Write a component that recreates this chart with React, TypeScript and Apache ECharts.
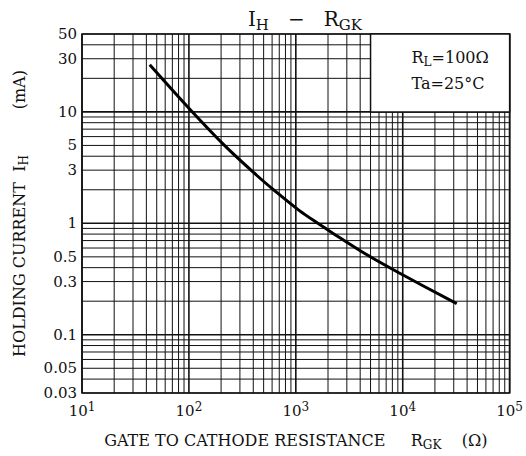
import React, { useEffect, useRef } from "react";
import * as echarts from "echarts";

// ---- data ----
const RGK = [43, 100, 220, 430, 660, 1080, 1660, 2200, 4500, 9200, 32000];
const IH = [26.5, 10.8, 4.9, 2.7, 1.9, 1.3, 0.98, 0.82, 0.53, 0.36, 0.19];

const X_MIN = 10;
const X_MAX = 100000;
const Y_MIN = 0.03;
const Y_MAX = 50;

const X_DECADES = [10, 100, 1000, 10000];
const Y_DECADES = [0.01, 0.1, 1, 10];
const MULTS = [1, 2, 3, 4, 5, 6, 7, 8, 9];
const Y_LABELS = [50, 30, 10, 5, 3, 1, 0.5, 0.3, 0.1, 0.05, 0.03];
const BOX_X = [5000, 100000];
const BOX_Y = [10, 50];

const FONT = "DejaVu Serif";
const INK = "#111";

const xGrid: number[] = [];
X_DECADES.forEach((d) => MULTS.forEach((m) => xGrid.push(+(d * m).toPrecision(6))));
xGrid.push(X_MAX);
const yGrid: number[] = [];
Y_DECADES.forEach((d) =>
  MULTS.forEach((m) => {
    const v = +(d * m).toPrecision(6);
    if (v >= Y_MIN - 1e-9 && v <= Y_MAX + 1e-9) yGrid.push(v);
  })
);

const isDecade = (v: number) => Math.abs(Math.log10(v) - Math.round(Math.log10(v))) < 1e-9;

const subRich = (fs: number, sfs: number, lh: number) => ({
  a: { fontFamily: FONT, fontSize: fs, color: INK, fill: INK, lineHeight: lh, verticalAlign: "middle" },
  s: { fontFamily: FONT, fontSize: sfs, color: INK, fill: INK, lineHeight: lh, verticalAlign: "bottom" },
});

export default function App() {
  const ref = useRef<HTMLDivElement>(null);
  useEffect(() => {
    if (!ref.current) return;
    const chart = echarts.init(ref.current, undefined, { renderer: "svg" });
    chart.setOption({
      animation: false,
      backgroundColor: "#fff",
      title: {
        text: "{a|I}{s|H}{a|   −   R}{s|GK}",
        left: 300,
        textAlign: "center",
        top: 1,
        textStyle: {
          fontWeight: "normal",
          rich: subRich(20, 15, 26),
        },
      },
      grid: {
        left: 82,
        right: 15,
        top: 34,
        bottom: 63,
        show: true,
        borderColor: INK,
        borderWidth: 1.5,
        backgroundColor: "transparent",
      },
      xAxis: {
        type: "log",
        logBase: 10,
        min: X_MIN,
        max: X_MAX,
        axisLine: { show: false },
        axisTick: { show: false },
        splitLine: { show: false },
        axisLabel: {
          margin: 8,
          formatter: (v: number) => `{b|10}{s|${Math.round(Math.log10(v))}}`,
          rich: {
            b: { fontFamily: FONT, fontSize: 15, color: INK, lineHeight: 17, verticalAlign: "bottom" },
            s: { fontFamily: FONT, fontSize: 12, color: INK, lineHeight: 17, verticalAlign: "top" },
          },
        },
        name: "{a|GATE TO CATHODE RESISTANCE     R}{s|GK}{a|    (Ω)}",
        nameLocation: "middle",
        nameGap: 36,
        nameTextStyle: {
          rich: subRich(16, 12, 22),
        },
      },
      yAxis: {
        type: "log",
        logBase: 10,
        min: Y_MIN,
        max: Y_MAX,
        axisLine: { show: false },
        axisTick: { show: false },
        splitLine: { show: false },
        axisLabel: { show: false },
        name: "{a|HOLDING CURRENT  I}{s|H}{a|         (mA)}",
        nameLocation: "middle",
        nameGap: 52,
        nameTextStyle: {
          rich: subRich(16, 12, 22),
        },
      },
      series: [
        {
          type: "custom",
          z: 1,
          silent: true,
          clip: false,
          data: xGrid.map((v) => [v, Y_MIN]),
          renderItem: (params: any, api: any) => {
            const v = api.value(0);
            const p1 = api.coord([v, Y_MIN]);
            const p2 = api.coord([v, Y_MAX]);
            return {
              type: "line",
              shape: { x1: p1[0], y1: p1[1], x2: p2[0], y2: p2[1] },
              style: { stroke: INK, lineWidth: isDecade(v) ? 1.6 : 1 },
            };
          },
        },
        {
          type: "custom",
          z: 1,
          silent: true,
          clip: false,
          data: yGrid.map((v) => [X_MIN, v]),
          renderItem: (params: any, api: any) => {
            const v = api.value(1);
            const p1 = api.coord([X_MIN, v]);
            const p2 = api.coord([X_MAX, v]);
            return {
              type: "line",
              shape: { x1: p1[0], y1: p1[1], x2: p2[0], y2: p2[1] },
              style: { stroke: INK, lineWidth: isDecade(v) ? 1.6 : 1 },
            };
          },
        },
        {
          type: "custom",
          z: 2,
          silent: true,
          clip: false,
          data: Y_LABELS.map((v) => [X_MIN, v]),
          renderItem: (params: any, api: any) => {
            const v = api.value(1);
            const p = api.coord([X_MIN, v]);
            return {
              type: "text",
              x: p[0] - 5,
              y: p[1],
              style: {
                text: String(v),
                fill: INK,
                fontFamily: FONT,
                fontSize: 15,
                align: "right",
                verticalAlign: "middle",
              },
            };
          },
        },
        {
          type: "custom",
          z: 3,
          silent: true,
          clip: false,
          data: [[BOX_X[0], BOX_Y[0]]],
          renderItem: (params: any, api: any) => {
            const p1 = api.coord([BOX_X[0], BOX_Y[1]]);
            const p2 = api.coord([BOX_X[1], BOX_Y[0]]);
            const w = p2[0] - p1[0];
            const h = p2[1] - p1[1];
            return {
              type: "group",
              children: [
                {
                  type: "rect",
                  shape: { x: p1[0], y: p1[1], width: w, height: h },
                  style: { fill: "#fff", stroke: INK, lineWidth: 1.5 },
                },
                {
                  type: "text",
                  x: p1[0] + 41,
                  y: p1[1] + 12,
                  style: {
                    text: "{a|R}{s|L}{a|=100Ω}",
                    rich: subRich(16, 12, 22),
                  },
                },
                {
                  type: "text",
                  x: p1[0] + 41,
                  y: p1[1] + 49,
                  style: {
                    text: "Ta=25°C",
                    fill: INK,
                    fontFamily: FONT,
                    fontSize: 16,
                    verticalAlign: "middle",
                  },
                },
              ],
            };
          },
        },
        {
          type: "line",
          z: 4,
          data: RGK.map((x, i) => [x, IH[i]]),
          smooth: 0.3,
          showSymbol: false,
          symbol: "none",
          lineStyle: { color: "#000", width: 3 },
        },
      ],
    });
    return () => chart.dispose();
  }, []);
  return (
    <div
      ref={ref}
      style={{ position: "fixed", left: 0, top: 0, width: 526, height: 456 }}
    />
  );
}
